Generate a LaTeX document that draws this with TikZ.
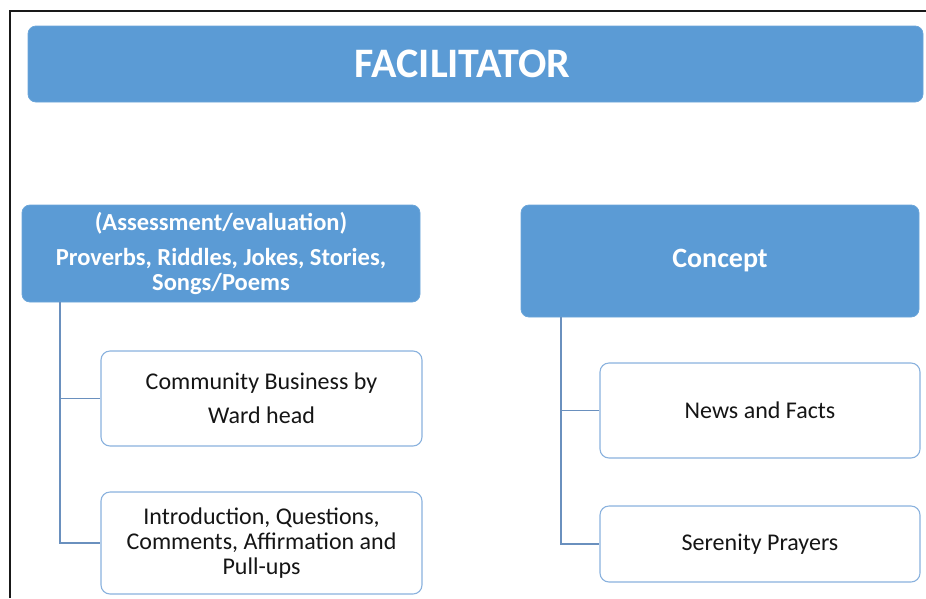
\documentclass[tikz,border=0pt]{standalone}
\usepackage{fontspec}
\setmainfont{Carlito}
\definecolor{boxblue}{HTML}{5B9BD5}
\definecolor{edgeblue}{HTML}{8AB2DE}
\definecolor{linkblue}{HTML}{6A90BE}
\definecolor{txt}{HTML}{151515}
\tikzset{
  bluebox/.style={draw=boxblue!90!white, fill=boxblue, rounded corners=8pt, text=white, font=\bfseries, align=center, inner sep=0pt, line width=0.8pt},
  whitebox/.style={draw=edgeblue, fill=white, rounded corners=9pt, text=txt, align=center, inner sep=0pt, line width=1.1pt, font=\fontsize{24}{25}\selectfont},
  conn/.style={draw=linkblue, line width=1.6pt},
}
\begin{document}
\begin{tikzpicture}[x=1pt,y=-1pt]
\useasboundingbox (0,0) rectangle (926,598);
\draw[line width=1.3pt, black!90] (10,598) -- (10,11) -- (926,11);
\node[bluebox, minimum width=895pt, minimum height=76pt, font=\bfseries\fontsize{42}{44}\selectfont] (fac) at (475.5,64) {FACILITATOR\hspace*{26pt}};
\node[bluebox, minimum width=398pt, minimum height=97pt, font=\bfseries\fontsize{24.5}{25}\selectfont] (left) at (221,253.5) {(Assessment/evaluation)\\[10pt] Proverbs, Riddles, Jokes, Stories,\\ Songs/Poems};
\node[bluebox, minimum width=398pt, minimum height=112pt, font=\bfseries\fontsize{28}{30}\selectfont] (concept) at (720,261) {Concept};
\node[whitebox, minimum width=321pt, minimum height=95pt] (c1) at (261.5,398.5) {Community Business by\\[9pt] Ward head};
\node[whitebox, minimum width=321pt, minimum height=102pt] (c2) at (261.5,543) {Introduction, Questions,\\ Comments, Affirmation and\\ Pull-ups};
\node[whitebox, minimum width=320pt, minimum height=95pt] (c3) at (760,410.5) {News and Facts};
\node[whitebox, minimum width=320pt, minimum height=76pt] (c4) at (760,544) {Serenity Prayers};
\coordinate (lt) at (60,302);
\coordinate (rt) at (561,317);
\draw[conn] (lt) |- (c1.west);
\draw[conn] (lt) |- (c2.west);
\draw[conn] (rt) |- (c3.west);
\draw[conn] (rt) |- (c4.west);
\end{tikzpicture}
\end{document}
